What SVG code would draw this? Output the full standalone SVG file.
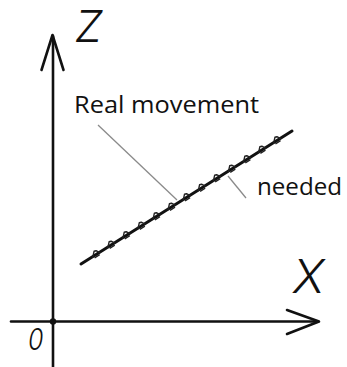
<svg xmlns="http://www.w3.org/2000/svg" width="347" height="367" viewBox="0 0 347 367">
<style>
.ax{stroke:#111;stroke-width:2.6;fill:none;stroke-linecap:round;stroke-linejoin:round}
.hand{font-family:Inter,"Liberation Sans",Arial,sans-serif;font-style:italic;font-weight:300;fill:#111}
.lbl{font-family:"Open Sans","Liberation Sans",sans-serif;fill:#111}
.lead{stroke:#8a8a8a;stroke-width:1.3;fill:none}
</style>
<defs>
<marker id="step" markerUnits="userSpaceOnUse" markerWidth="12" markerHeight="12" viewBox="-6 -6 12 12" refX="0" refY="0" orient="auto">
<path d="M-4.5,0.8 L0,-3.8 L2,-3.2 L4.5,0.8 M-3,2 L3,2" fill="none" stroke="#222" stroke-width="1.4" stroke-linejoin="round"/>
</marker>
</defs>
<rect width="347" height="367" fill="#fff"/>
<g id="axes">
<line class="ax" x1="53" y1="36" x2="53" y2="367"/>
<polyline class="ax" points="41.5,70 52.5,35 63.5,70"/>
<line class="ax" x1="11" y1="321.5" x2="318" y2="321.5"/>
<polyline class="ax" points="287,310 319,321.5 287,334"/>
<circle cx="53" cy="321.5" r="3.2" fill="#111"/>
</g>
<g id="axis-labels">
<text class="hand" x="75" y="42" font-size="44">Z</text>
<text class="hand" x="293" y="293" font-size="47">X</text>
<text class="hand" x="28" y="350.5" font-size="25" font-weight="400" transform="translate(28 350.5) scale(1 1.2) translate(-28 -350.5)">0</text>
</g>
<g id="movement-line">
<polyline points="81,264 96.07,254.5 111.14,245 126.21,235.5 141.29,226 156.36,216.5 171.43,207 186.5,197.5 201.57,188 216.64,178.5 231.71,169 246.79,159.5 261.86,150 276.93,140.5 292,131" stroke="#111" stroke-width="3" fill="none" stroke-linecap="round" marker-mid="url(#step)"/>
</g>
<g id="connectors">
<line class="lead" x1="98" y1="125" x2="177" y2="200"/>
<line class="lead" x1="228" y1="176" x2="246" y2="198"/>
</g>
<g id="label-real">
<text class="lbl" x="74" y="113" font-size="23" textLength="185" lengthAdjust="spacingAndGlyphs">Real movement</text>
</g>
<g id="label-needed">
<text class="lbl" x="257" y="195" font-size="23" textLength="85" lengthAdjust="spacingAndGlyphs">needed</text>
</g>
</svg>
